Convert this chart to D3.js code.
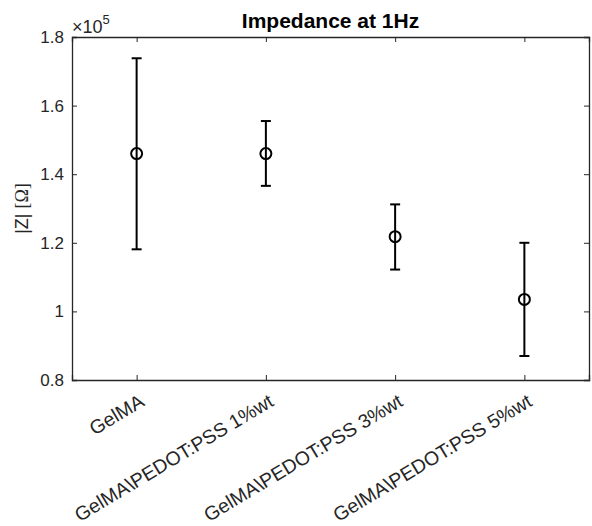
<!DOCTYPE html>
<html><head><meta charset="utf-8">
<script src="https://cdn.jsdelivr.net/npm/d3@7"></script>
<style>body{margin:0;background:#fff}svg{display:block}</style>
</head><body>
<script>
const categories = ["GelMA","GelMA\\PEDOT:PSS 1%wt","GelMA\\PEDOT:PSS 3%wt","GelMA\\PEDOT:PSS 5%wt"];
const means = [1.460, 1.460, 1.218, 1.035];
const upper = [1.738, 1.555, 1.312, 1.200];
const lower = [1.181, 1.366, 1.122, 0.870];
const yTicks = [0.8, 1.0, 1.2, 1.4, 1.6, 1.8];

const W = 592, H = 526;
const m = {l:72, r:3, t:37, b:146};
const svg = d3.select("body").append("svg").attr("width",W).attr("height",H);
const font = "'Liberation Sans', Arial, sans-serif";
const axCol = "#262626";

const x = d3.scaleLinear().domain([0.5, 4.5]).range([m.l, W - m.r]);
const y = d3.scaleLinear().domain([0.8, 1.8]).range([H - m.b, m.t]);

const g = svg.append("g");
const yAxis = d3.axisLeft(y).tickValues(yTicks).tickSize(-5).tickPadding(8).tickFormat(d => d3.format("~g")(+d.toFixed(1)));
const ya = g.append("g").attr("transform",`translate(${m.l},0)`).call(yAxis);
const yr = g.append("g").attr("transform",`translate(${W-m.r},0)`).call(d3.axisRight(y).tickValues(yTicks).tickSize(-5).tickFormat(""));
const xa = g.append("g").attr("transform",`translate(0,${H-m.b})`).call(d3.axisBottom(x).tickValues([1,2,3,4]).tickSize(-5).tickFormat(""));
const xt = g.append("g").attr("transform",`translate(0,${m.t})`).call(d3.axisTop(x).tickValues([1,2,3,4]).tickSize(-5).tickFormat(""));
[ya,yr,xa,xt].forEach(a => {
  a.selectAll("path.domain").attr("stroke",axCol).attr("stroke-width",1.3);
  a.selectAll(".tick line").attr("stroke",axCol).attr("stroke-width",1);
});
ya.selectAll("text").attr("fill",axCol).style("font-family",font).style("font-size","17px");

g.selectAll("text.xl").data(categories).join("text").attr("class","xl")
  .attr("transform",(d,i)=>`translate(${x(i+1)+9},${H-m.b+25}) rotate(-31)`)
  .attr("text-anchor","end").attr("fill",axCol)
  .style("font-family",font).style("font-size","19.5px").text(d=>d);

const ex = svg.append("text").attr("x",m.l).attr("y",m.t-4).attr("fill",axCol).style("font-family",font).style("font-size","18px");
ex.append("tspan").text("×10");
ex.append("tspan").attr("dy",-9).style("font-size","13px").text("5");

svg.append("text").attr("x",(m.l+W-m.r)/2).attr("y",28).attr("text-anchor","middle")
  .style("font-family",font).style("font-weight","bold").style("font-size","21px").attr("fill","#000").text("Impedance at 1Hz");

const yl = svg.append("text").attr("transform",`translate(28,${(m.t+H-m.b)/2}) rotate(-90)`).attr("text-anchor","middle")
  .attr("fill",axCol).style("font-family",font).style("font-size","18px");
yl.append("tspan").text("|Z| ");
yl.append("tspan").style("font-family","'Liberation Serif', 'DejaVu Serif', serif").text("[Ω]");

const eb = g.append("g").attr("stroke","#000").attr("stroke-width",2).attr("fill","none");
categories.forEach((c,i)=>{
  const cx = x(i+1);
  eb.append("line").attr("x1",cx).attr("x2",cx).attr("y1",y(lower[i])).attr("y2",y(upper[i]));
  eb.append("line").attr("x1",cx-5).attr("x2",cx+5).attr("y1",y(lower[i])).attr("y2",y(lower[i]));
  eb.append("line").attr("x1",cx-5).attr("x2",cx+5).attr("y1",y(upper[i])).attr("y2",y(upper[i]));
  eb.append("circle").attr("cx",cx).attr("cy",y(means[i])).attr("r",5.5);
});
</script>
</body></html>
